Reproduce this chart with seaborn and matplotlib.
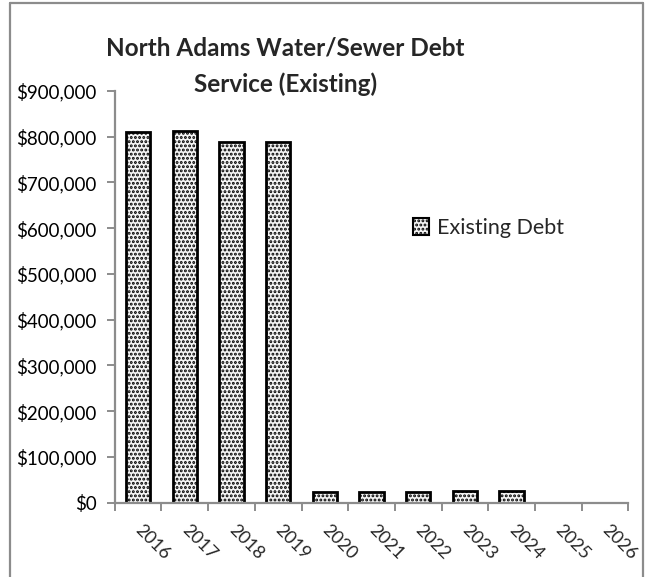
import matplotlib
matplotlib.use("Agg")
import matplotlib.pyplot as plt
from matplotlib.lines import Line2D
from matplotlib.patches import Patch
from matplotlib.ticker import FuncFormatter, FixedLocator
import seaborn as sns
import pandas as pd

years = ["2016", "2017", "2018", "2019", "2020", "2021", "2022", "2023", "2024", "2025", "2026"]
existing_debt = [811000, 812500, 789000, 788000, 24000, 24000, 23000, 26000, 26000, 0, 0]
series_name = "Existing Debt"
title = "North Adams Water/Sewer Debt\nService (Existing)"
y_ticks = [0, 100000, 200000, 300000, 400000, 500000, 600000, 700000, 800000, 900000]

sns.set_theme(style="white")
plt.rcParams["font.family"] = ["Lato", "DejaVu Sans"]
plt.rcParams["hatch.linewidth"] = 1.4
plt.rcParams["hatch.color"] = "#505050"

df = pd.DataFrame({"Year": years, "Debt": existing_debt, "Series": series_name})

fig = plt.figure(figsize=(6.45, 5.77), dpi=100)
ax = fig.add_axes([0.178, 0.1288, 0.796, 0.7135])

sns.barplot(data=df, x="Year", y="Debt", hue="Series", ax=ax, width=0.52,
            palette=["#f4f4f4"], edgecolor="black", linewidth=2.0, legend=False)
for p in ax.patches:
    p.set_hatch("....")

ax.set_xlim(-0.5, len(years) - 0.5)
ax.set_ylim(0, 900000)
ax.yaxis.set_major_locator(FixedLocator(y_ticks))
ax.yaxis.set_major_formatter(FuncFormatter(lambda v, p: f"${v:,.0f}"))
ax.set_xlabel("")
ax.set_ylabel("")

gray = "#8c8c8c"
for s in ["top", "right"]:
    ax.spines[s].set_visible(False)
for s in ["left", "bottom"]:
    ax.spines[s].set_color(gray)
    ax.spines[s].set_linewidth(1.6)

ax.tick_params(axis="y", which="major", left=True, length=6, width=1.4, color=gray,
               labelsize=13.5, labelcolor="black", pad=7)
ax.set_xticks(range(len(years)))
ax.set_xticklabels(years)
ax.set_xticks([i - 0.5 for i in range(len(years) + 1)], minor=True)
ax.tick_params(axis="x", which="major", bottom=False, length=0, labelsize=13, pad=18)
ax.tick_params(axis="x", which="minor", bottom=True, length=6, width=1.4, color=gray)
for lbl in ax.get_xticklabels():
    lbl.set_rotation(-45)
    lbl.set_ha("left")
    lbl.set_va("center")
    lbl.set_rotation_mode("anchor")

fig.text(0.442, 0.936, title, ha="center", va="top", fontsize=17.5, fontweight="bold",
         linespacing=1.65)

handle = Patch(facecolor="#f4f4f4", edgecolor="black", hatch="....", linewidth=1.5)
ax.legend([handle], [series_name], loc="center left", bbox_to_anchor=(0.56, 0.667),
          frameon=False, fontsize=15.5, handlelength=0.75, handleheight=0.8,
          handletextpad=0.35, borderpad=0)

fig.add_artist(Line2D([10/645, 10/645], [0, 1 - 3/577], color=gray, lw=1.6))
fig.add_artist(Line2D([10/645, 643/645], [1 - 3/577, 1 - 3/577], color=gray, lw=1.6))
fig.add_artist(Line2D([643/645, 643/645], [0, 1 - 3/577], color=gray, lw=1.6))

fig.savefig("out.png", dpi=100)
